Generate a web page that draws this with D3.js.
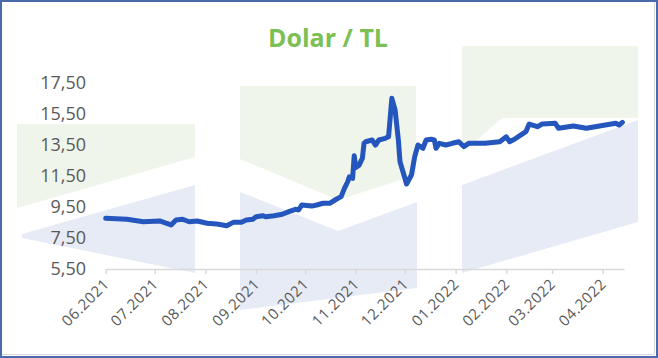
<!DOCTYPE html>
<html><head><meta charset="utf-8">
<script src="https://cdnjs.cloudflare.com/ajax/libs/d3/7.8.5/d3.min.js"></script>
<style>html,body{margin:0;padding:0;background:#fff;}svg{display:block;}</style>
</head><body>
<script>
const title = "Dolar / TL";
const dates = ["2021-06-01","2021-06-14","2021-06-24","2021-07-04","2021-07-07","2021-07-11","2021-07-14","2021-07-18","2021-07-22","2021-07-27",
"2021-08-02","2021-08-08","2021-08-14","2021-08-18","2021-08-23","2021-08-26","2021-08-30","2021-09-01","2021-09-05","2021-09-07",
"2021-09-12","2021-09-17","2021-09-21","2021-09-25","2021-09-27","2021-09-29","2021-10-05","2021-10-08","2021-10-12","2021-10-16",
"2021-10-20","2021-10-23","2021-10-25","2021-10-27","2021-10-28","2021-10-30","2021-10-31","2021-11-01","2021-11-03","2021-11-05",
"2021-11-06","2021-11-07","2021-11-11","2021-11-13","2021-11-15","2021-11-19","2021-11-21","2021-11-23","2021-11-25","2021-11-27",
"2021-11-28","2021-12-01","2021-12-02","2021-12-05","2021-12-07","2021-12-09","2021-12-12","2021-12-14","2021-12-17","2021-12-19",
"2021-12-20","2021-12-22","2021-12-26","2021-12-30","2022-01-03","2022-01-06","2022-01-09","2022-01-11","2022-01-19","2022-01-28",
"2022-02-01","2022-02-03","2022-02-06","2022-02-10","2022-02-13","2022-02-15","2022-02-20","2022-02-23","2022-03-03","2022-03-05",
"2022-03-14","2022-03-22","2022-03-30","2022-04-09","2022-04-11","2022-04-13"];
const rates = [8.77,8.71,8.55,8.60,8.49,8.34,8.66,8.71,8.55,8.60,
8.45,8.40,8.29,8.51,8.51,8.66,8.71,8.87,8.94,8.87,
8.94,9.03,9.20,9.35,9.31,9.63,9.56,9.63,9.74,9.74,
10.00,10.17,10.70,11.13,11.45,11.35,12.80,12.05,12.20,12.65,
13.61,13.71,13.82,13.50,13.82,13.93,14.03,16.51,15.76,13.82,
12.42,11.35,10.98,11.56,12.75,13.50,13.29,13.82,13.87,13.82,
13.29,13.61,13.50,13.61,13.71,13.40,13.61,13.61,13.61,13.71,
14.03,13.71,13.87,14.15,14.36,14.85,14.68,14.85,14.90,14.58,
14.73,14.58,14.73,14.90,14.79,14.96];
const yTicks = [5.5,7.5,9.5,11.5,13.5,15.5,17.5];
const monthTicks = ["2021-06-01","2021-07-01","2021-08-01","2021-09-01","2021-10-01","2021-11-01","2021-12-01","2022-01-01","2022-02-01","2022-03-01","2022-04-01"];

const W = 658, H = 358;
const parse = d3.timeParse("%Y-%m-%d");
const svg = d3.select("body").append("svg").attr("width", W).attr("height", H);

// decorative background shapes
const green = "#eff5ea", blue = "#e7ebf5";
const deco = [
  {c: green, p: [[17,124],[195,124],[195,157],[17,208]]},
  {c: blue,  p: [[22,234],[195,185],[195,273],[22,238]]},
  {c: green, p: [[240,86],[416,86],[416,175],[338,200],[240,159]]},
  {c: blue,  p: [[240,192],[338,231],[417,202],[417,288],[240,310]]},
  {c: green, p: [[462,46],[638,46],[638,118],[502,118],[462,153]]},
  {c: blue,  p: [[462,185],[638,120],[638,222],[462,273]]}
];
svg.append("g").selectAll("polygon").data(deco).join("polygon")
  .attr("points", d => d.p.map(q => q.join(",")).join(" "))
  .attr("fill", d => d.c);

const x = d3.scaleTime().domain([parse("2021-06-01"), parse("2022-04-14")]).range([105.7, 624]);
const y = d3.scaleLinear().domain([5.5, 17.5]).range([269, 83]);

// title
svg.append("text").attr("x", 328).attr("y", 47).attr("text-anchor", "middle")
  .attr("font-family", "'Open Sans', sans-serif").attr("font-weight", 700)
  .attr("font-size", 25).attr("fill", "#7cc055").text(title);

// y axis labels
const fmt = d => d3.format(".2f")(d).replace(".", ",");
svg.append("g").selectAll("text").data(yTicks).join("text")
  .attr("x", 86).attr("y", d => y(d)).attr("dy", "0.36em")
  .attr("text-anchor", "end").attr("font-family", "'Open Sans', sans-serif")
  .attr("font-size", 18).attr("fill", "#595959").text(fmt);

// x axis
const xAxis = d3.axisBottom(x).tickValues(monthTicks.map(parse)).tickSize(5).tickSizeOuter(0)
  .tickFormat(d3.timeFormat("%m.%Y"));
const gx = svg.append("g").attr("transform", "translate(0,269)").call(xAxis);
gx.select(".domain").attr("stroke", "#d9d9d9").attr("stroke-width", 1.5);
gx.selectAll(".tick line").attr("stroke", "#d9d9d9").attr("stroke-width", 1.5);
gx.selectAll(".tick text")
  .attr("font-family", "'Open Sans', sans-serif").attr("font-size", 15).attr("fill", "#595959")
  .attr("letter-spacing", 0.6)
  .attr("text-anchor", "end").attr("dy", 0).attr("y", 0)
  .attr("transform", "translate(4,16) rotate(-45)");

// line
const data = dates.map((d, i) => ({date: parse(d), v: rates[i]}));
svg.append("path").datum(data)
  .attr("fill", "none").attr("stroke", "#2456be").attr("stroke-width", 5)
  .attr("stroke-linejoin", "round").attr("stroke-linecap", "round")
  .attr("d", d3.line().x(d => x(d.date)).y(d => y(d.v)));

// frame
svg.append("line").attr("x1", 654.5).attr("x2", 654.5).attr("y1", 2).attr("y2", 354).attr("stroke", "#d8d8d8");
svg.append("line").attr("x1", 2).attr("x2", 654).attr("y1", 354.5).attr("y2", 354.5).attr("stroke", "#d8d8d8");
svg.append("rect").attr("x", 1).attr("y", 1).attr("width", 656).attr("height", 356)
  .attr("fill", "none").attr("stroke", "#4a6aab").attr("stroke-width", 2);
</script>
</body></html>
